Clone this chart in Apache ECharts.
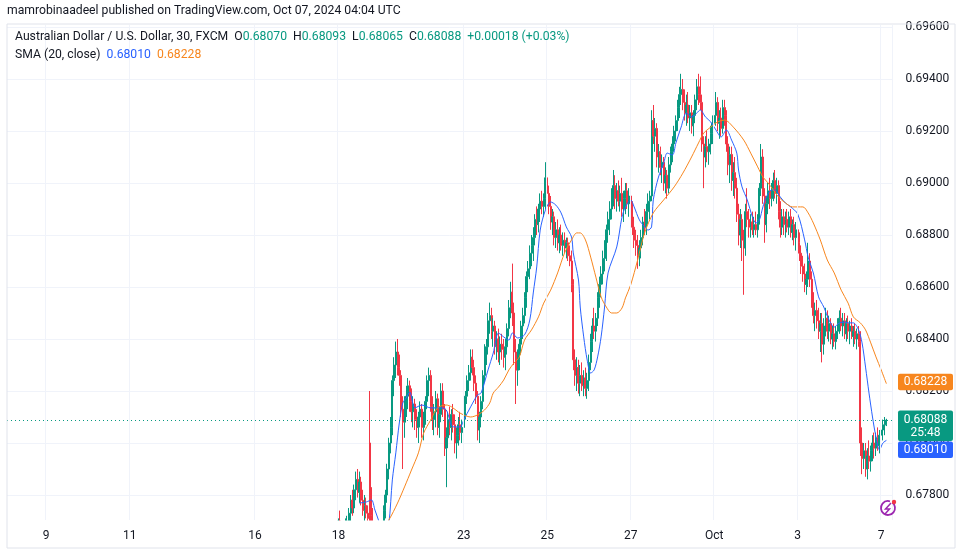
<!DOCTYPE html>
<html><head><meta charset="utf-8">
<script src="https://cdn.jsdelivr.net/npm/echarts@6/dist/echarts.min.js"></script>
<style>html,body{margin:0;padding:0;background:#fff}#c{width:962px;height:554px}</style>
</head><body><div id="c"></div>
<script>
// ---- time slots (hourly trading slots) ----
const tradingDays = ['2024-09-06','2024-09-09','2024-09-10','2024-09-11','2024-09-12','2024-09-13',
  '2024-09-16','2024-09-17','2024-09-18','2024-09-19','2024-09-20','2024-09-23','2024-09-24',
  '2024-09-25','2024-09-26','2024-09-27','2024-09-30','2024-10-01','2024-10-02','2024-10-03',
  '2024-10-04','2024-10-07'];
const tickDays = ['2024-09-09','2024-09-11','2024-09-16','2024-09-18','2024-09-23','2024-09-25','2024-09-27','2024-10-01','2024-10-03','2024-10-07'];
const tickText = ['9','11','16','18','23','25','27','Oct','3','7'];
const yTicks = [0.678,0.680,0.682,0.684,0.686,0.688,0.690,0.692,0.694,0.696];

// ---- candles [open, high, low, close], hourly from candleStart ----
const candleStart = '2024-09-18 00:00';
const ohlc = [
// Sep 18
[.6768,.6771,.6764,.6770],[.6770,.6774,.6766,.6767],[.6767,.6770,.6762,.6765],[.6765,.6769,.6760,.6767],
[.6767,.6771,.6763,.6769],[.6769,.6772,.6765,.6770],[.6770,.6775,.6766,.6773],[.6773,.6780,.6770,.6778],
[.6778,.6782,.6772,.6775],[.6775,.6784,.6773,.6782],[.6782,.6789,.6778,.6786],[.6786,.6790,.6779,.6781],
[.6781,.6789,.6777,.6785],[.6785,.6787,.6776,.6778],[.6778,.6782,.6772,.6774],[.6774,.6780,.6770,.6776],
[.6776,.6779,.6771,.6773],[.6773,.6776,.6768,.6771],[.6800,.6820,.6766,.6772],[.6772,.6783,.6764,.6767],
[.6767,.6775,.6758,.6762],[.6762,.6768,.6755,.6760],[.6760,.6765,.6754,.6758],[.6758,.6764,.6753,.6762],
// Sep 19
[.6762,.6767,.6757,.6764],[.6764,.6770,.6760,.6768],[.6768,.6776,.6765,.6774],[.6774,.6782,.6771,.6780],
[.6780,.6792,.6777,.6790],[.6790,.6802,.6786,.6800],[.6800,.6810,.6796,.6806],[.6806,.6826,.6803,.6824],
[.6824,.6833,.6818,.6830],[.6830,.6839,.6825,.6835],[.6835,.6840,.6826,.6829],[.6829,.6834,.6822,.6826],
[.6826,.6828,.6810,.6813],[.6813,.6818,.6790,.6808],[.6808,.6818,.6802,.6815],[.6815,.6822,.6810,.6818],
[.6818,.6825,.6813,.6822],[.6822,.6824,.6812,.6816],[.6816,.6821,.6808,.6812],[.6812,.6818,.6806,.6815],
[.6815,.6817,.6805,.6809],[.6809,.6813,.6802,.6806],[.6806,.6812,.6800,.6810],[.6810,.6816,.6806,.6813],
// Sep 20
[.6813,.6815,.6802,.6806],[.6806,.6812,.6801,.6810],[.6810,.6818,.6807,.6816],[.6816,.6826,.6813,.6824],
[.6824,.6829,.6818,.6826],[.6826,.6828,.6812,.6814],[.6814,.6818,.6805,.6809],[.6809,.6815,.6803,.6812],
[.6812,.6820,.6806,.6817],[.6817,.6819,.6803,.6806],[.6806,.6814,.6802,.6811],[.6811,.6823,.6808,.6820],
[.6820,.6823,.6810,.6813],[.6813,.6815,.6795,.6798],[.6798,.6806,.6783,.6802],[.6802,.6812,.6798,.6809],
[.6809,.6814,.6803,.6806],[.6806,.6813,.6801,.6811],[.6811,.6815,.6804,.6807],[.6807,.6811,.6796,.6800],
[.6800,.6806,.6794,.6803],[.6803,.6810,.6799,.6807],[.6807,.6812,.6801,.6804],[.6804,.6809,.6800,.6806],
// Sep 23
[.6806,.6815,.6803,.6812],[.6812,.6820,.6809,.6818],[.6818,.6826,.6815,.6824],[.6824,.6830,.6820,.6827],
[.6827,.6836,.6824,.6833],[.6833,.6836,.6826,.6829],[.6829,.6832,.6820,.6823],[.6823,.6826,.6815,.6818],
[.6818,.6820,.6801,.6805],[.6805,.6812,.6800,.6810],[.6810,.6818,.6806,.6816],[.6816,.6828,.6813,.6826],
[.6826,.6838,.6823,.6835],[.6835,.6840,.6830,.6837],[.6837,.6850,.6834,.6847],[.6847,.6854,.6842,.6849],
[.6849,.6852,.6840,.6843],[.6843,.6848,.6837,.6845],[.6845,.6847,.6834,.6837],[.6837,.6843,.6832,.6840],
[.6840,.6844,.6831,.6835],[.6835,.6841,.6830,.6838],[.6838,.6842,.6832,.6836],[.6836,.6840,.6829,.6833],
// Sep 24
[.6833,.6840,.6828,.6837],[.6837,.6846,.6834,.6844],[.6844,.6855,.6841,.6852],[.6852,.6862,.6848,.6858],
[.6858,.6869,.6845,.6850],[.6850,.6854,.6830,.6835],[.6835,.6840,.6815,.6828],[.6828,.6836,.6822,.6832],
[.6832,.6840,.6828,.6838],[.6838,.6847,.6834,.6845],[.6845,.6852,.6840,.6849],[.6849,.6858,.6846,.6856],
[.6856,.6866,.6852,.6864],[.6864,.6870,.6858,.6867],[.6867,.6876,.6863,.6873],[.6873,.6880,.6868,.6876],
[.6876,.6883,.6870,.6879],[.6879,.6888,.6876,.6886],[.6886,.6891,.6880,.6884],[.6884,.6892,.6881,.6890],
[.6890,.6896,.6885,.6893],[.6893,.6897,.6888,.6891],[.6891,.6896,.6887,.6894],[.6894,.6908,.6890,.6902],
// Sep 25
[.6902,.6906,.6893,.6896],[.6896,.6899,.6888,.6891],[.6891,.6895,.6882,.6885],[.6885,.6890,.6880,.6887],
[.6887,.6889,.6876,.6879],[.6879,.6885,.6875,.6882],[.6882,.6886,.6874,.6877],[.6877,.6883,.6873,.6880],
[.6880,.6884,.6874,.6876],[.6876,.6881,.6872,.6878],[.6878,.6881,.6873,.6875],[.6875,.6879,.6871,.6877],
[.6877,.6879,.6870,.6872],[.6872,.6876,.6868,.6870],[.6870,.6874,.6858,.6861],[.6861,.6863,.6828,.6832],
[.6832,.6836,.6822,.6826],[.6826,.6833,.6820,.6829],[.6829,.6832,.6819,.6823],[.6823,.6830,.6818,.6826],
[.6826,.6831,.6820,.6822],[.6822,.6828,.6818,.6825],[.6825,.6829,.6818,.6821],[.6821,.6827,.6817,.6824],
// Sep 26
[.6824,.6834,.6820,.6831],[.6831,.6842,.6828,.6839],[.6839,.6848,.6835,.6845],[.6845,.6852,.6840,.6843],
[.6843,.6850,.6839,.6848],[.6848,.6858,.6845,.6856],[.6856,.6864,.6852,.6861],[.6861,.6868,.6856,.6865],
[.6865,.6874,.6861,.6871],[.6871,.6878,.6866,.6875],[.6875,.6884,.6870,.6882],[.6882,.6889,.6877,.6886],
[.6886,.6893,.6880,.6890],[.6890,.6898,.6886,.6895],[.6895,.6905,.6891,.6899],[.6899,.6903,.6890,.6894],
[.6894,.6900,.6889,.6897],[.6897,.6901,.6891,.6893],[.6893,.6899,.6889,.6896],[.6896,.6902,.6887,.6890],
[.6890,.6897,.6885,.6894],[.6894,.6900,.6888,.6897],[.6897,.6900,.6890,.6892],[.6892,.6898,.6887,.6895],
// Sep 27
[.6895,.6899,.6886,.6890],[.6890,.6893,.6880,.6883],[.6883,.6887,.6875,.6878],[.6878,.6882,.6872,.6876],
[.6876,.6880,.6867,.6872],[.6872,.6878,.6868,.6875],[.6875,.6882,.6871,.6879],[.6879,.6887,.6876,.6885],
[.6885,.6890,.6880,.6883],[.6883,.6892,.6880,.6889],[.6889,.6896,.6884,.6893],[.6893,.6897,.6886,.6895],
[.6895,.6928,.6893,.6924],[.6924,.6930,.6915,.6918],[.6918,.6925,.6912,.6921],[.6921,.6923,.6906,.6910],
[.6910,.6915,.6904,.6912],[.6912,.6914,.6903,.6906],[.6906,.6911,.6900,.6908],[.6908,.6910,.6897,.6900],
[.6900,.6906,.6896,.6903],[.6903,.6905,.6894,.6898],[.6898,.6910,.6896,.6907],[.6907,.6914,.6904,.6912],
// Sep 30
[.6912,.6918,.6908,.6915],[.6915,.6922,.6912,.6920],[.6920,.6926,.6916,.6924],[.6924,.6932,.6920,.6929],
[.6929,.6937,.6925,.6934],[.6934,.6942,.6930,.6936],[.6936,.6940,.6928,.6931],[.6931,.6936,.6924,.6927],
[.6927,.6934,.6922,.6930],[.6930,.6935,.6923,.6925],[.6925,.6930,.6920,.6927],[.6927,.6930,.6919,.6922],
[.6922,.6928,.6918,.6926],[.6926,.6934,.6923,.6932],[.6932,.6940,.6928,.6937],[.6937,.6942,.6930,.6934],
[.6934,.6941,.6928,.6931],[.6931,.6934,.6912,.6915],[.6915,.6918,.6898,.6910],[.6910,.6918,.6906,.6914],
[.6914,.6920,.6908,.6912],[.6912,.6917,.6907,.6915],[.6915,.6922,.6911,.6919],[.6919,.6926,.6915,.6923],
// Oct 1
[.6923,.6930,.6918,.6926],[.6926,.6935,.6922,.6931],[.6931,.6933,.6920,.6923],[.6923,.6928,.6917,.6925],
[.6925,.6929,.6918,.6921],[.6921,.6932,.6919,.6929],[.6929,.6932,.6922,.6926],[.6926,.6928,.6912,.6915],
[.6915,.6918,.6903,.6907],[.6907,.6914,.6900,.6911],[.6911,.6914,.6897,.6901],[.6901,.6908,.6895,.6904],
[.6904,.6910,.6894,.6898],[.6898,.6902,.6885,.6888],[.6888,.6892,.6876,.6880],[.6880,.6890,.6875,.6886],
[.6886,.6888,.6870,.6878],[.6878,.6882,.6857,.6875],[.6875,.6892,.6872,.6889],[.6889,.6898,.6883,.6886],
[.6886,.6890,.6879,.6883],[.6883,.6888,.6879,.6885],[.6885,.6889,.6880,.6882],[.6882,.6887,.6879,.6884],
// Oct 2
[.6884,.6889,.6880,.6882],[.6882,.6888,.6879,.6886],[.6886,.6900,.6884,.6898],[.6898,.6915,.6895,.6910],
[.6910,.6913,.6892,.6895],[.6895,.6898,.6877,.6884],[.6884,.6895,.6881,.6892],[.6892,.6900,.6888,.6897],
[.6897,.6902,.6890,.6894],[.6894,.6900,.6891,.6898],[.6898,.6904,.6893,.6901],[.6901,.6905,.6894,.6896],
[.6896,.6902,.6892,.6899],[.6899,.6901,.6886,.6889],[.6889,.6893,.6879,.6883],[.6883,.6890,.6880,.6887],
[.6887,.6890,.6880,.6884],[.6884,.6889,.6879,.6886],[.6886,.6890,.6881,.6883],[.6883,.6889,.6880,.6887],
[.6887,.6890,.6879,.6881],[.6881,.6886,.6878,.6884],[.6884,.6887,.6876,.6879],[.6879,.6885,.6874,.6882],
// Oct 3
[.6882,.6886,.6874,.6877],[.6877,.6881,.6870,.6873],[.6873,.6876,.6865,.6868],[.6868,.6872,.6862,.6865],
[.6865,.6869,.6858,.6861],[.6861,.6866,.6857,.6863],[.6863,.6877,.6860,.6870],[.6870,.6873,.6860,.6863],
[.6863,.6866,.6852,.6855],[.6855,.6858,.6846,.6849],[.6849,.6854,.6843,.6851],[.6851,.6855,.6844,.6847],
[.6847,.6852,.6840,.6843],[.6843,.6850,.6835,.6846],[.6846,.6850,.6831,.6838],[.6838,.6848,.6834,.6845],
[.6845,.6852,.6841,.6848],[.6848,.6851,.6840,.6843],[.6843,.6849,.6839,.6846],[.6846,.6848,.6838,.6840],
[.6840,.6845,.6836,.6842],[.6842,.6846,.6837,.6839],[.6839,.6845,.6836,.6843],[.6843,.6848,.6840,.6846],
// Oct 4
[.6846,.6851,.6842,.6848],[.6848,.6852,.6843,.6845],[.6845,.6850,.6841,.6847],[.6847,.6850,.6840,.6842],
[.6842,.6848,.6839,.6846],[.6846,.6849,.6840,.6843],[.6843,.6847,.6838,.6845],[.6845,.6848,.6840,.6841],
[.6841,.6845,.6837,.6843],[.6843,.6846,.6838,.6840],[.6840,.6844,.6836,.6842],[.6842,.6845,.6837,.6839],
[.6839,.6843,.6795,.6800],[.6800,.6806,.6788,.6794],[.6794,.6800,.6790,.6797],[.6797,.6800,.6787,.6790],
[.6790,.6798,.6786,.6795],[.6795,.6801,.6790,.6793],[.6793,.6799,.6789,.6797],[.6797,.6803,.6793,.6800],
[.6800,.6804,.6794,.6798],[.6798,.6804,.6795,.6802],[.6802,.6806,.6797,.6799],[.6799,.6805,.6796,.6803],
// Oct 7
[.6803,.6807,.6799,.6805],[.6805,.6809,.6801,.6807],[.6807,.6810,.6803,.6807],[.68070,.68093,.68065,.68088]
];

// ---- SMA (20, close) line and its smoothing line: [slot index, value] ----
const smaLine = [[202,.67769],[206,.67773],[209,.67781],[211,.67742],[213,.67704],[215,.6766],[217,.6765],[219,.6769],
[221,.67858],[223,.67962],[225,.68077],[227,.68154],[229,.68173],[231,.68196],[234,.68135],[238,.68146],[243,.68135],
[249,.68135],[252,.68127],[256,.68062],[260,.68062],[262,.68088],[266,.68139],[270,.68185],[272,.68192],[276,.68281],
[279,.68346],[282,.68423],[285,.68408],[288,.68396],[290,.68423],[293,.68404],[297,.68416],[300,.68473],[302,.68577],
[304,.68677],[306,.68819],[309,.68896],[312,.68927],[315,.68915],[318,.68885],[321,.68831],[324,.68792],[325,.68731],
[328,.68627],[329,.68523],[331,.68408],[333,.68319],[335,.68269],[337,.68281],[339,.68331],[341,.68408],[343,.68523],
[345,.68654],[350,.68754],[353,.68869],[355,.68908],[358,.68935],[360,.68908],[363,.68858],[366,.68831],[368,.68819],
[370,.68831],[371,.68935],[374,.69023],[377,.69077],[379,.69115],[382,.69108],[384,.69154],[387,.69215],[390,.69269],
[393,.69254],[396,.69269],[398,.69281],[401,.69254],[404,.69235],[407,.69204],[410,.69177],[413,.69204],[416,.69165],
[419,.69115],[420,.69050],[422,.68985],[425,.68935],[428,.68869],[430,.68846],[432,.68858],[434,.68908],[436,.68946],
[439,.68973],[441,.68973],[444,.68946],[447,.68923],[450,.68908],[454,.68881],[458,.68781],[460,.68715],[463,.68654],
[466,.68562],[469,.68523],[472,.68473],[475,.68446],[478,.68462],[481,.68465],[483,.68462],[486,.68462],[489,.68435],
[491,.68385],[493,.68292],[495,.68192],[497,.68100],[499,.68023],[501,.67973],[503,.68000],[505,.68010]];
const smoothLine = [[215,.6767],[219,.67704],[224,.67769],[228,.67831],[232,.67896],[236,.67962],[239,.68038],[243,.68088],
[247,.68135],[252,.68146],[255,.68139],[259,.68119],[262,.68108],[266,.68100],[270,.68108],[274,.68127],[277,.68154],
[279,.68192],[282,.68215],[285,.68242],[288,.68281],[291,.68308],[294,.68331],[297,.68396],[301,.68435],[305,.68485],
[308,.68538],[312,.68588],[316,.68654],[320,.68731],[324,.68781],[327,.68808],[329,.68808],[332,.68781],[335,.68715],
[338,.68638],[341,.68562],[344,.68523],[347,.68500],[350,.68500],[353,.68519],[355,.68558],[358,.68608],[362,.68704],
[366,.68808],[371,.68885],[377,.68935],[383,.68985],[388,.69038],[393,.69100],[397,.69154],[400,.69192],[404,.69215],
[408,.69235],[412,.69242],[417,.69215],[423,.69165],[427,.69115],[431,.69062],[434,.69023],[437,.69000],[440,.68973],
[443,.68946],[447,.68923],[451,.68908],[457,.68908],[460,.68885],[463,.68846],[467,.68781],[471,.68704],[475,.68654],
[479,.68588],[483,.68538],[486,.68485],[490,.68462],[493,.68435],[496,.68385],[499,.68331],[502,.68281],[505,.68228]];

const countdown = '25:48';
const changeText = '+0.00018 (+0.03%)';

// ---- build ----
const cats = [];
tradingDays.forEach((d, k) => {
  const h0 = k === 0 ? 2 : 0;
  const h1 = k === tradingDays.length - 1 ? 6 : 23;
  for (let h = h0; h <= h1; h++) cats.push(d + ' ' + String(h).padStart(2, '0') + ':00');
});
const tickMap = {};
tickDays.forEach((d, i) => { tickMap[d + ' 00:00'] = tickText[i]; });
const isTick = (i, v) => tickMap[v] !== undefined;
const s0 = cats.indexOf(candleStart);
const candleData = ohlc.map((r, j) => [s0 + j, r[0], r[3], r[2], r[1]]);
const last = ohlc[ohlc.length - 1];
const lastClose = last[3];
const smaLast = smaLine[smaLine.length - 1][1];
const smoothLast = smoothLine[smoothLine.length - 1][1];

const UP = '#089981', DOWN = '#f23645', BLUE = '#2962ff', ORANGE = '#f7861e', TXT = '#131722';
const FONT = 'Roboto, "Noto Sans", sans-serif';
const HF = '12.2px ' + FONT;
const f5 = v => v.toFixed(5);

const chart = echarts.init(document.getElementById('c'), null, { renderer: 'canvas' });
chart.setOption({
  animation: false,
  backgroundColor: '#ffffff',
  grid: { left: 7, top: 25, width: 885.5, height: 495 },
  xAxis: {
    type: 'category', data: cats, boundaryGap: true, z: 20,
    axisLine: { show: false }, axisTick: { show: false },
    axisLabel: { interval: isTick, formatter: v => tickMap[v] || '', color: TXT, fontSize: 12, fontFamily: FONT, margin: 10 },
    splitLine: { show: true, interval: isTick, lineStyle: { color: '#f0f3fa', width: 1 } }
  },
  yAxis: {
    type: 'value', position: 'right', min: 0.677038, max: 0.696077, scale: true,
    axisLine: { show: false },
    axisTick: { show: false, customValues: yTicks },
    axisLabel: { customValues: yTicks, formatter: f5, color: TXT, fontSize: 12, fontFamily: FONT, margin: 13 },
    splitLine: { show: true, lineStyle: { color: '#f0f3fa', width: 1 } }
  },
  series: [
    {
      type: 'candlestick', data: candleData, encode: { x: 0, y: [1, 2, 3, 4] },
      barWidth: 1.5, clip: true,
      itemStyle: { color: UP, color0: DOWN, borderColor: UP, borderColor0: DOWN, borderWidth: 1 }
    },
    { type: 'line', data: smaLine, showSymbol: false, smooth: 0.3, clip: true, lineStyle: { color: BLUE, width: 1 }, z: 3,
      markLine: {
        silent: true, symbol: ['none', 'none'], animation: false, precision: 6,
        label: { show: false },
        lineStyle: { color: UP, type: [1, 3], width: 1 },
        data: [{ yAxis: lastClose }]
      }
    },
    { type: 'line', data: smoothLine, showSymbol: false, smooth: 0.3, clip: true, lineStyle: { color: ORANGE, width: 1 }, z: 3 }
  ]
});

// right-side price boxes and chrome, positioned through the axis scale
const yOf = v => chart.convertToPixel({ yAxisIndex: 0 }, v);
const yC = yOf(lastClose), yO = yOf(smoothLast);
const tealTop = yC - 9.5, tealH = 30.5;
const blueTop = tealTop + tealH + 0.5;
const boxX = 898, boxW = 55;
const boxText = (x, y, t) => ({ type: 'text', x: x, y: y, style: { text: t, fill: '#fff', font: '12px ' + FONT, textAlign: 'center', textVerticalAlign: 'middle' }, z: 101 });
const graphics = [
  // cover strip below the plot so out-of-range candles end at the plot edge
  { type: 'rect', z: 10, silent: true, shape: { x: 0, y: 520.5, width: 962, height: 33.5 }, style: { fill: '#ffffff' } },
  { type: 'rect', z: 30, shape: { x: 7, y: 24, width: 948, height: 524 }, style: { fill: 'none', stroke: '#e0e3eb', lineWidth: 1 }, silent: true },
  { type: 'text', x: 7, y: 11, style: { text: 'mamrobinaadeel published on TradingView.com, Oct 07, 2024 04:04 UTC', fill: TXT, font: HF, textVerticalAlign: 'middle' } },
  { type: 'text', x: 15, y: 37, z: 100, style: {
      text: '{d|Australian Dollar / U.S. Dollar, 30, FXCM}  {d|O}{g|' + f5(last[0]) + '}  {d|H}{g|' + f5(last[1]) + '}  {d|L}{g|' + f5(last[2]) + '}  {d|C}{g|' + f5(last[3]) + '}  {g|' + changeText + '}',
      textVerticalAlign: 'middle', font: HF,
      rich: { d: { fill: TXT, font: HF }, g: { fill: UP, font: HF } } } },
  { type: 'text', x: 15, y: 55, z: 100, style: {
      text: '{d|SMA (20, close)}  {b|' + f5(smaLast) + '}  {o|' + f5(smoothLast) + '}',
      textVerticalAlign: 'middle', font: HF,
      rich: { d: { fill: TXT, font: HF }, b: { fill: BLUE, font: HF }, o: { fill: ORANGE, font: HF } } } },
  { type: 'rect', z: 100, shape: { x: boxX, y: yO - 10, width: boxW, height: 16.5, r: 2 }, style: { fill: ORANGE } },
  boxText(boxX + boxW / 2, yO - 1.7, f5(smoothLast)),
  { type: 'rect', z: 100, shape: { x: boxX, y: tealTop, width: boxW, height: tealH, r: 2 }, style: { fill: UP } },
  boxText(boxX + boxW / 2, yC, f5(lastClose)),
  boxText(boxX + boxW / 2, yC + 13, countdown),
  { type: 'rect', z: 100, shape: { x: boxX, y: blueTop, width: boxW, height: 16.5, r: 2 }, style: { fill: BLUE } },
  boxText(boxX + boxW / 2, blueTop + 8.3, f5(smaLast)),
  // TradingView logo
  { type: 'arc', z: 100, shape: { cx: 888, cy: 508, r: 7, startAngle: -0.9, endAngle: 5.0 }, style: { stroke: '#9c27b0', fill: 'none', lineWidth: 1.8 } },
  { type: 'polyline', z: 100, shape: { points: [[891, 503], [885.5, 509], [889.5, 509], [885, 514]] }, style: { stroke: '#9c27b0', fill: 'none', lineWidth: 1.5 } },
  { type: 'circle', z: 100, shape: { cx: 894, cy: 502, r: 2.2 }, style: { fill: DOWN } }
];
chart.setOption({ graphic: graphics });
</script>
</body></html>
